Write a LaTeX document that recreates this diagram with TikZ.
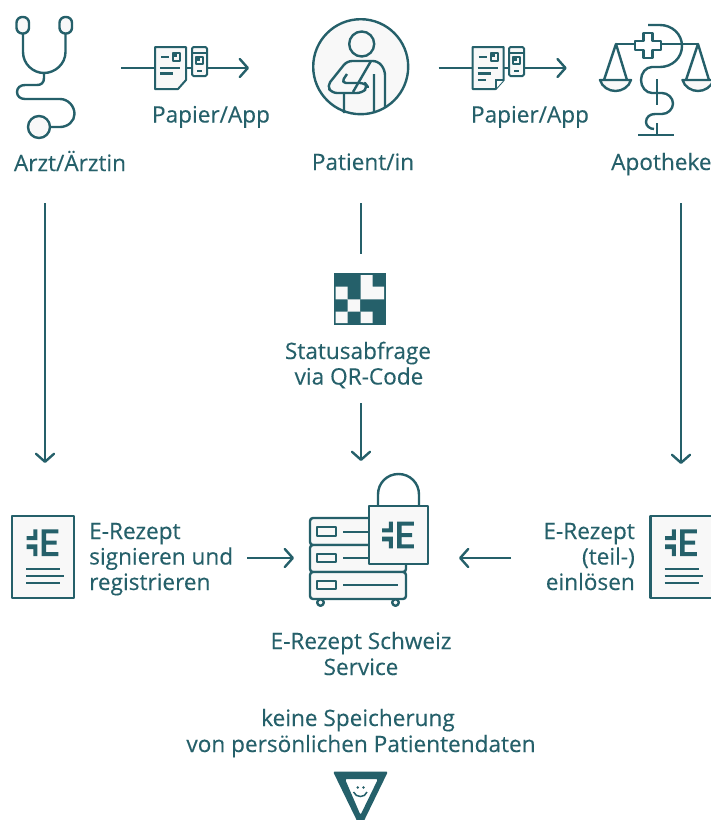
\documentclass[tikz,border=0pt]{standalone}
\usepackage{fontspec}
\setmainfont[FakeBold=0.25]{Open Sans}
\usetikzlibrary{arrows.meta}
\definecolor{teal}{HTML}{25606A}
\definecolor{paper}{HTML}{F8F8F8}
\tikzset{
  x=1pt,y=-1pt,
  ln/.style={draw=teal,line width=2.4pt,line join=round},
  thin line/.style={draw=teal,line width=2.1pt},
  flow/.style={draw=teal,line width=2.1pt,-{Straight Barb[length=8pt,width=18pt,line width=2.4pt,round]}},
  label/.style={text=teal,font=\fontsize{22.6}{24}\selectfont,inner sep=0pt,anchor=base},
  paperdoc/.pic={
    \path[ln,fill=paper,line width=2pt] (0,0)--(31,0)--(31,33)--(23,42)--(0,42)--cycle;
    \draw[thin line] (6,10)--(14,10) (5,21)--(25,21) (5,26.5)--(18,26.5);
    \path[ln,line width=1.6pt] (18,6) rectangle (25,14);
    \fill[teal] (18,6) rectangle (22,10);
  },
  phoneicon/.pic={
    \path[ln,fill=paper,rounded corners=1.5pt,line width=2pt] (0,0) rectangle (15,29);
    \draw[thin line,line width=1.4pt] (0,6)--(15,6) (5,24)--(10,24);
    \path[ln,line width=1.6pt] (4,10) rectangle (11,17);
    \fill[teal] (4,10) rectangle (8,14);
  },
  elogo/.pic={
    \fill[teal] (-15.8,-6.7)--(-9.2,-6.7)--(-9.2,-13.3)--(-5.2,-13.3)--(-5.2,-2.7)--(-15.8,-2.7)--cycle;
    \fill[teal] (-15.8,1.7)--(-5.2,1.7)--(-5.2,13.3)--(-9.2,13.3)--(-9.2,6.3)--(-15.8,6.3)--cycle;
    \fill[teal] (-0.8,-13.3)--(15.8,-13.3)--(15.8,-9.3)--(3.5,-9.3)--(3.5,-2)--(14.2,-2)--(14.2,2)--(3.5,2)--(3.5,9.3)--(15.8,9.3)--(15.8,13.3)--(-0.8,13.3)--cycle;
  },
  sheet/.pic={
    \path[ln,fill=paper] (-30.5,-26.5) rectangle (31.5,55.5);
    \pic at (0,0) {elogo};
    \draw[thin line] (-16.5,26.5)--(17.5,26.5) (-16.5,33.5)--(21.5,33.5) (-16.5,40.5)--(17.5,40.5);
  }
}
\begin{document}
\begin{tikzpicture}
\useasboundingbox[fill=white] (0,0) rectangle (711,820);

% stethoscope
\path[ln,fill=paper,rounded corners=5.8pt] (16.5,17) rectangle (29,33.5);
\path[ln,fill=paper,rounded corners=5.8pt] (59.5,17) rectangle (72,33.5);
\draw[ln] (23,33)--(23,52) .. controls (23,64) and (33,73) .. (44,73) .. controls (55,73) and (65.5,64) .. (65.5,52)--(65.5,33);
\draw[ln] (44,73)--(44,78) .. controls (44,83) and (41,85) .. (37,85)--(25,85) .. controls (20,85) and (17,88) .. (17,92) .. controls (17,96) and (20,99) .. (25,99)--(60,99) .. controls (68,99) and (74.5,106) .. (74.5,114) .. controls (74.5,121) and (68,127) .. (60,127)--(49,127);
\path[ln,fill=paper] (39,127) circle[radius=11];

% first Papier/App
\coordinate (a1) at (121,68); \coordinate (b1) at (249,68);
\draw[flow] (a1)--(b1);
\pic at (155,47) {paperdoc};
\pic at (192,47) {phoneicon};

% patient
\path[ln,fill=paper] (360.7,66.7) circle[radius=47.5];
\draw[ln] (361.7,44) circle[radius=12.5];
\draw[ln,rounded corners=5pt] (347,74)--(341,83)--(365,83)--(368,87)--(362,93)--(332,93)--(327,86)--(347,61)--(378,61)--(385,70)--(385,108);
\draw[ln] (371,61)--(353,92) (374,74)--(374,111) (344,93)--(344,113);

% second Papier/App
\coordinate (a2) at (438.5,68); \coordinate (b2) at (566.7,68);
\draw[flow] (a2)--(b2);
\pic at (472.7,47) {paperdoc};
\draw[thin line,fill=white] (503.7,80)--(495.7,80)--(495.7,89);
\draw[thin line] (477.7,80)--(485.7,80);
\pic at (509,47) {phoneicon};

% pharmacy
\draw[ln] (616,44)--(698,44);
\draw[ln,fill=white] (643.5,33)--(652.5,33)--(652.5,41)--(661,41)--(661,50)--(652.5,50)--(652.5,58)--(643.5,58)--(643.5,50)--(635,50)--(635,41)--(643.5,41)--cycle;
\draw[ln] (604,80)--(616,44)--(627,80);
\draw[ln] (686,80)--(698,44)--(709,80);
\path[ln,fill=paper] (600,80)--(631,80) .. controls (629,87) and (622,91) .. (615.5,91) .. controls (609,91) and (602,87) .. (600,80)--cycle;
\path[ln,fill=paper] (682.5,80)--(713.5,80) .. controls (711.5,87) and (704.5,91) .. (698,91) .. controls (691.5,91) and (684.5,87) .. (682.5,80)--cycle;
\draw[ln] (648,25)--(660,25) .. controls (672,25) and (682,34) .. (682,46) .. controls (682,58) and (672,67) .. (660,67)--(652,67) .. controls (646,67) and (641,73) .. (641,80) .. controls (641,87) and (646,93) .. (652,93)--(662,93) .. controls (668,93) and (673,98) .. (673,103.5) .. controls (673,109) and (668,114) .. (662,114)--(655,114) .. controls (650,114) and (646,117) .. (646,122) .. controls (646,126) and (650,129) .. (654,129);
\draw[ln] (657,79)--(657,105) (657,123)--(657,135) (638,135)--(674,135);

% labels top
\node[label] (arzt) at (70,171) {Arzt/Ärztin};
\node[label] (pa1) at (211,122.5) {Papier/App};
\node[label] (patient) at (363,170) {Patient/in};
\node[label] (pa2) at (530,122.5) {Papier/App};
\node[label,anchor=base west] (apo) at (611,170) {Apotheke};

% verticals
\coordinate (v1a) at (45,203); \coordinate (v1b) at (45,463);
\coordinate (v2a) at (361,203); \coordinate (v2b) at (361,254);
\coordinate (v3a) at (361,403); \coordinate (v3b) at (361,461);
\coordinate (v4a) at (681,203); \coordinate (v4b) at (681,464);
\draw[flow] (v1a)--(v1b);
\draw[thin line] (v2a)--(v2b);
\draw[flow] (v3a)--(v3b);
\draw[flow] (v4a)--(v4b);

% QR
\fill[teal] (333.5,272.8) rectangle (386,325);
\fill[paper] (335.7,286.7) rectangle (347.7,299.3)
  (360.7,275) rectangle (372.7,299.3)
  (372.7,286.7) rectangle (384,299.3)
  (347.7,299.3) rectangle (360,311.7)
  (335.7,311.7) rectangle (347.7,323)
  (360.7,311.7) rectangle (372.7,323);
\node[label] (st1) at (358,359) {Statusabfrage};
\node[label] (st2) at (359,384.5) {via QR-Code};

% left document
\pic at (42.5,542.7) {sheet};
\node[label,anchor=base west] (l1) at (89,539) {E-Rezept};
\node[label,anchor=base west] (l2) at (89,564.5) {signieren und};
\node[label,anchor=base west] (l3) at (89,590) {registrieren};
\coordinate (h1a) at (247,558); \coordinate (h1b) at (294,558);
\draw[flow] (h1a)--(h1b);

% server
\path[ln,fill=paper,rounded corners=3pt] (310,518) rectangle (406,545);
\path[ln,fill=paper,rounded corners=3pt] (310,545) rectangle (406,572);
\path[ln,fill=paper] (320.5,602.5) circle[radius=3.3];
\path[ln,fill=paper] (395.5,602.5) circle[radius=3.3];
\path[ln,fill=paper,rounded corners=3pt] (310,572) rectangle (406,599);
\draw[ln,line width=2pt] (317,527) rectangle (336,536) (317,554) rectangle (336,562) (317,581) rectangle (336,589);
\draw[thin line] (343,532)--(370,532) (343,558)--(370,558) (343,585)--(398,585);
\draw[ln] (378,506)--(378,494.5) .. controls (378,483) and (387,474) .. (398.5,474) .. controls (410,474) and (419,483) .. (419,494.5)--(419,506);
\path[ln,fill=paper] (369,506) rectangle (428,564);
\pic at (398,535) {elogo};

% right document
\pic at (681,542.7) {sheet};
\node[label,anchor=base east] (r1) at (635,539) {E-Rezept};
\node[label,anchor=base east] (r2) at (635,564.5) {(teil-)};
\node[label,anchor=base east] (r3) at (635,590) {einlösen};
\coordinate (h2a) at (511,558); \coordinate (h2b) at (459,558);
\draw[flow] (h2a)--(h2b);

% bottom texts
\node[label] (s1) at (361,649) {E-Rezept Schweiz};
\node[label] (s2) at (361,675) {Service};
\node[label] (k1) at (358,726) {keine Speicherung};
\node[label] (k2) at (361,752) {von persönlichen Patientendaten};

% logo
\fill[teal,even odd rule,rounded corners=2pt] (333,771.5)--(388,771.5)--(360.5,828)--cycle (345,779)--(378,779)--(360.5,815)--cycle;
\fill[teal] (357.7,787.5) circle[radius=1.4] (363.5,787.5) circle[radius=1.4];
\draw[teal,line width=1.5pt] (353.5,792) .. controls (356,798) and (365,798) .. (367,792);
\end{tikzpicture}
\end{document}
